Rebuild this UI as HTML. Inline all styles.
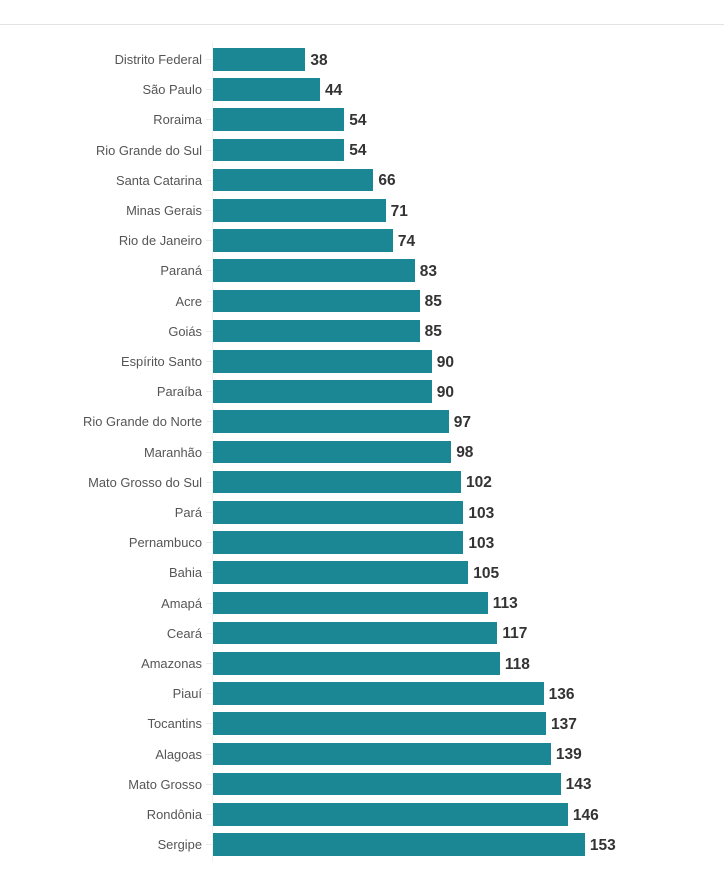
<!DOCTYPE html>
<html><head><meta charset="utf-8">
<style>
html,body{margin:0;padding:0;background:#fff;}
body{width:725px;height:873px;position:relative;overflow:hidden;font-family:"Liberation Sans",Arial,sans-serif;}
.top{position:absolute;left:0;top:23.5px;width:724px;height:1px;background:#e3e3e3;}
.ax{position:absolute;left:212px;top:42px;width:1px;height:820px;background:#f0f0f0;}
.r{position:absolute;left:0;width:725px;height:22.5px;}
.l{position:absolute;right:523px;top:1px;line-height:22.5px;font-size:12.9px;color:#555;white-space:nowrap;}
.t{position:absolute;left:206px;top:11px;width:6px;height:1px;background:#ececec;}
.bw{position:absolute;left:213px;top:0;height:22.5px;display:flex;align-items:flex-start;}
.b{height:22.5px;background:#1b8794;}
.v{margin-left:5px;font-weight:bold;font-size:15.5px;color:#333;line-height:22.5px;position:relative;top:1.5px;}
</style></head><body>
<div class="top"></div>
<div class="ax"></div>

<div class="r" style="top:48px"><span class="l">Distrito Federal</span><div class="t"></div><div class="bw"><div class="b" style="width:92.4px"></div><span class="v">38</span></div></div>
<div class="r" style="top:78.2px"><span class="l">São Paulo</span><div class="t"></div><div class="bw"><div class="b" style="width:107px"></div><span class="v">44</span></div></div>
<div class="r" style="top:108.4px"><span class="l">Roraima</span><div class="t"></div><div class="bw"><div class="b" style="width:131.3px"></div><span class="v">54</span></div></div>
<div class="r" style="top:138.6px"><span class="l">Rio Grande do Sul</span><div class="t"></div><div class="bw"><div class="b" style="width:131.3px"></div><span class="v">54</span></div></div>
<div class="r" style="top:168.8px"><span class="l">Santa Catarina</span><div class="t"></div><div class="bw"><div class="b" style="width:160.4px"></div><span class="v">66</span></div></div>
<div class="r" style="top:199px"><span class="l">Minas Gerais</span><div class="t"></div><div class="bw"><div class="b" style="width:172.6px"></div><span class="v">71</span></div></div>
<div class="r" style="top:229.2px"><span class="l">Rio de Janeiro</span><div class="t"></div><div class="bw"><div class="b" style="width:179.9px"></div><span class="v">74</span></div></div>
<div class="r" style="top:259.4px"><span class="l">Paraná</span><div class="t"></div><div class="bw"><div class="b" style="width:201.8px"></div><span class="v">83</span></div></div>
<div class="r" style="top:289.6px"><span class="l">Acre</span><div class="t"></div><div class="bw"><div class="b" style="width:206.6px"></div><span class="v">85</span></div></div>
<div class="r" style="top:319.8px"><span class="l">Goiás</span><div class="t"></div><div class="bw"><div class="b" style="width:206.6px"></div><span class="v">85</span></div></div>
<div class="r" style="top:350px"><span class="l">Espírito Santo</span><div class="t"></div><div class="bw"><div class="b" style="width:218.8px"></div><span class="v">90</span></div></div>
<div class="r" style="top:380.2px"><span class="l">Paraíba</span><div class="t"></div><div class="bw"><div class="b" style="width:218.8px"></div><span class="v">90</span></div></div>
<div class="r" style="top:410.4px"><span class="l">Rio Grande do Norte</span><div class="t"></div><div class="bw"><div class="b" style="width:235.8px"></div><span class="v">97</span></div></div>
<div class="r" style="top:440.6px"><span class="l">Maranhão</span><div class="t"></div><div class="bw"><div class="b" style="width:238.2px"></div><span class="v">98</span></div></div>
<div class="r" style="top:470.8px"><span class="l">Mato Grosso do Sul</span><div class="t"></div><div class="bw"><div class="b" style="width:248px"></div><span class="v">102</span></div></div>
<div class="r" style="top:501px"><span class="l">Pará</span><div class="t"></div><div class="bw"><div class="b" style="width:250.4px"></div><span class="v">103</span></div></div>
<div class="r" style="top:531.2px"><span class="l">Pernambuco</span><div class="t"></div><div class="bw"><div class="b" style="width:250.4px"></div><span class="v">103</span></div></div>
<div class="r" style="top:561.4px"><span class="l">Bahia</span><div class="t"></div><div class="bw"><div class="b" style="width:255.3px"></div><span class="v">105</span></div></div>
<div class="r" style="top:591.6px"><span class="l">Amapá</span><div class="t"></div><div class="bw"><div class="b" style="width:274.7px"></div><span class="v">113</span></div></div>
<div class="r" style="top:621.8px"><span class="l">Ceará</span><div class="t"></div><div class="bw"><div class="b" style="width:284.4px"></div><span class="v">117</span></div></div>
<div class="r" style="top:652px"><span class="l">Amazonas</span><div class="t"></div><div class="bw"><div class="b" style="width:286.9px"></div><span class="v">118</span></div></div>
<div class="r" style="top:682.2px"><span class="l">Piauí</span><div class="t"></div><div class="bw"><div class="b" style="width:330.6px"></div><span class="v">136</span></div></div>
<div class="r" style="top:712.4px"><span class="l">Tocantins</span><div class="t"></div><div class="bw"><div class="b" style="width:333px"></div><span class="v">137</span></div></div>
<div class="r" style="top:742.6px"><span class="l">Alagoas</span><div class="t"></div><div class="bw"><div class="b" style="width:337.9px"></div><span class="v">139</span></div></div>
<div class="r" style="top:772.8px"><span class="l">Mato Grosso</span><div class="t"></div><div class="bw"><div class="b" style="width:347.6px"></div><span class="v">143</span></div></div>
<div class="r" style="top:803px"><span class="l">Rondônia</span><div class="t"></div><div class="bw"><div class="b" style="width:354.9px"></div><span class="v">146</span></div></div>
<div class="r" style="top:833.2px"><span class="l">Sergipe</span><div class="t"></div><div class="bw"><div class="b" style="width:371.9px"></div><span class="v">153</span></div></div>

</body></html>
